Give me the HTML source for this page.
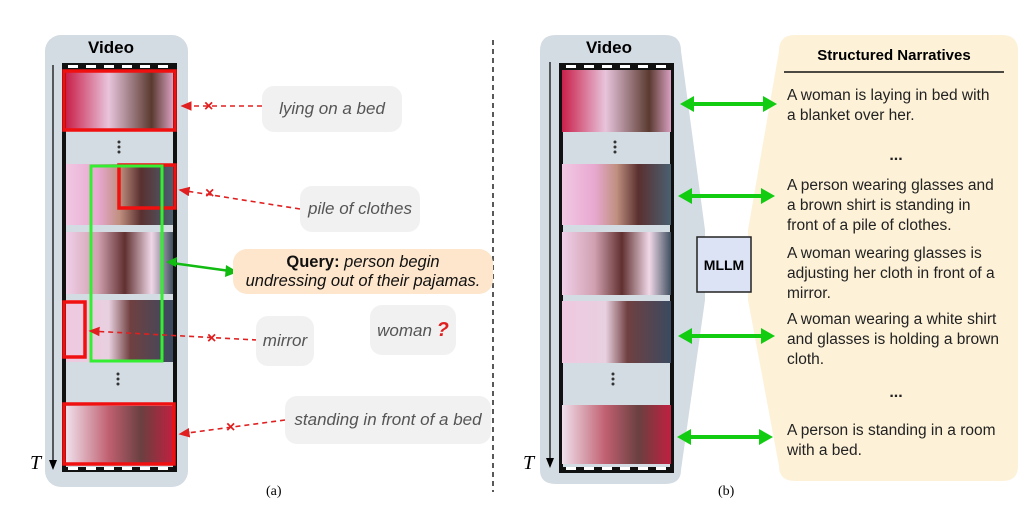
<!DOCTYPE html>
<html><head><meta charset="utf-8"><style>
body{margin:0;background:#fff;width:1024px;height:516px;overflow:hidden;position:relative;font-family:"Liberation Sans",Arial,sans-serif}
.a{position:absolute}
.bub{position:absolute;background:#f1f1f1;border-radius:12px;color:#555;font-style:italic;font-size:17px;text-align:center;white-space:nowrap}
.nt{position:absolute;left:787px;font-size:15.5px;line-height:20px;color:#222;white-space:nowrap}
</style></head><body>
<svg class="a" style="left:0;top:0" width="1024" height="516">
<defs>
<linearGradient id="f1" x1="0" x2="1"><stop offset="0" stop-color="#c9204a"/><stop offset=".4" stop-color="#e8c4dc"/><stop offset=".8" stop-color="#5a3a30"/><stop offset="1" stop-color="#d8a0c0"/></linearGradient>
<linearGradient id="f2" x1="0" x2="1"><stop offset="0" stop-color="#f2c8e4"/><stop offset=".3" stop-color="#e8a8d0"/><stop offset=".5" stop-color="#c09080"/><stop offset=".7" stop-color="#5a3030"/><stop offset="1" stop-color="#4a6070"/></linearGradient>
<linearGradient id="f3" x1="0" x2="1"><stop offset="0" stop-color="#f0d0e8"/><stop offset=".3" stop-color="#d0a0b0"/><stop offset=".55" stop-color="#603030"/><stop offset=".8" stop-color="#f0d8e8"/><stop offset="1" stop-color="#405060"/></linearGradient>
<linearGradient id="f4" x1="0" x2="1"><stop offset="0" stop-color="#f0c8e0"/><stop offset=".4" stop-color="#e8d0e0"/><stop offset=".6" stop-color="#704040"/><stop offset="1" stop-color="#3a4a60"/></linearGradient>
<linearGradient id="f5" x1="0" x2="1"><stop offset="0" stop-color="#f0e0ec"/><stop offset=".4" stop-color="#c06070"/><stop offset=".7" stop-color="#6a4040"/><stop offset="1" stop-color="#c02040"/></linearGradient>
<marker id="rh" markerWidth="8" markerHeight="8" refX="6" refY="4" orient="auto"><path d="M0,1 L7,4 L0,7z" fill="#e02020"/></marker>
</defs>
<rect x="45" y="35" width="143" height="452" rx="16" fill="#d3dbe3"/>
<rect x="62" y="63" width="115" height="409" fill="#111"/>
<rect x="66" y="70" width="107" height="397" fill="#d3dbe3"/>
<g fill="#fff"><rect x="68" y="65" width="10" height="3"/><rect x="86" y="65" width="10" height="3"/><rect x="104" y="65" width="10" height="3"/><rect x="122" y="65" width="10" height="3"/><rect x="140" y="65" width="10" height="3"/><rect x="158" y="65" width="10" height="3"/>
<rect x="68" y="467" width="10" height="3"/><rect x="86" y="467" width="10" height="3"/><rect x="104" y="467" width="10" height="3"/><rect x="122" y="467" width="10" height="3"/><rect x="140" y="467" width="10" height="3"/><rect x="158" y="467" width="10" height="3"/></g>
<rect x="66" y="72" width="107" height="58" fill="url(#f1)"/>
<rect x="66" y="164" width="107" height="61" fill="url(#f2)"/>
<rect x="66" y="232" width="107" height="62" fill="url(#f3)"/>
<rect x="66" y="300" width="107" height="62" fill="url(#f4)"/>
<rect x="66" y="406" width="107" height="58" fill="url(#f5)"/>
<g fill="#333"><circle cx="119" cy="142" r="1.5"/><circle cx="119" cy="147" r="1.5"/><circle cx="119" cy="152" r="1.5"/><circle cx="118" cy="374" r="1.5"/><circle cx="118" cy="379" r="1.5"/><circle cx="118" cy="384" r="1.5"/></g>
<g fill="none" stroke="#f01010" stroke-width="3.5">
<rect x="64" y="71" width="111" height="59"/><rect x="119" y="165" width="56" height="43"/><rect x="64" y="302" width="21" height="55"/><rect x="64" y="404" width="110" height="60"/></g>
<rect x="91" y="166" width="71" height="195" fill="none" stroke="#33ee33" stroke-width="3"/>
<line x1="53" y1="65" x2="53" y2="468" stroke="#000" stroke-width="1.2"/><path d="M49,460 L53,470 L57,460z" fill="#000"/>
<g stroke="#e02020" stroke-width="1.6" stroke-dasharray="5,4" fill="none">
<line x1="262" y1="106" x2="182" y2="106" marker-end="url(#rh)"/>
<line x1="300" y1="209" x2="180" y2="190" marker-end="url(#rh)"/>
<line x1="257" y1="340" x2="90" y2="331" marker-end="url(#rh)"/>
<line x1="285" y1="420" x2="180" y2="434" marker-end="url(#rh)"/>
</g>
<g fill="#e02020" font-size="16" font-weight="bold" font-family="Liberation Sans"><text x="204" y="111">×</text><text x="205" y="198">×</text><text x="207" y="343">×</text><text x="226" y="432">×</text></g>
<g stroke="#11bb11" stroke-width="2.5"><line x1="172" y1="263" x2="230" y2="271"/></g>
<path d="M166,262 L177,257 L176,267z" fill="#11bb11"/><path d="M238,272 L226,265 L225,277z" fill="#11bb11"/>
<line x1="493" y1="40" x2="493" y2="492" stroke="#222" stroke-width="1.5" stroke-dasharray="5,4"/>
<path d="M556,35 H665 Q681,35 681,51 L705,230 V300 L681,470 Q681,484 665,484 H556 Q540,484 540,470 V51 Q540,35 556,35z" fill="#d3dbe3"/>
<path d="M795,35 H1002 Q1018,35 1018,51 V466 Q1018,481 1002,481 H795 Q779,481 779,466 L748,300 V230 L779,51 Q779,35 795,35z" fill="#fdf1d8"/>
<rect x="559" y="63" width="115" height="410" fill="#111"/>
<rect x="563" y="70" width="107" height="397" fill="#d3dbe3"/>
<g fill="#fff"><rect x="566" y="65" width="10" height="3"/><rect x="584" y="65" width="10" height="3"/><rect x="602" y="65" width="10" height="3"/><rect x="620" y="65" width="10" height="3"/><rect x="638" y="65" width="10" height="3"/><rect x="656" y="65" width="10" height="3"/>
<rect x="566" y="467" width="10" height="3"/><rect x="584" y="467" width="10" height="3"/><rect x="602" y="467" width="10" height="3"/><rect x="620" y="467" width="10" height="3"/><rect x="638" y="467" width="10" height="3"/><rect x="656" y="467" width="10" height="3"/></g>
<rect x="562" y="70" width="109" height="62" fill="url(#f1)"/>
<rect x="562" y="164" width="109" height="61" fill="url(#f2)"/>
<rect x="562" y="232" width="109" height="63" fill="url(#f3)"/>
<rect x="562" y="301" width="109" height="62" fill="url(#f4)"/>
<rect x="562" y="405" width="109" height="59" fill="url(#f5)"/>
<g fill="#333"><circle cx="615" cy="142" r="1.5"/><circle cx="615" cy="147" r="1.5"/><circle cx="615" cy="152" r="1.5"/><circle cx="613" cy="374" r="1.5"/><circle cx="613" cy="379" r="1.5"/><circle cx="613" cy="384" r="1.5"/></g>
<line x1="550" y1="62" x2="550" y2="466" stroke="#000" stroke-width="1.2"/><path d="M546,458 L550,468 L554,458z" fill="#000"/>
<rect x="697" y="237" width="54" height="55" fill="#dce3f5" stroke="#222" stroke-width="1.5"/>
<text x="724" y="270" font-size="14" font-weight="bold" text-anchor="middle" font-family="Liberation Sans">MLLM</text>
<g stroke="#11cc11" stroke-width="4">
<line x1="688" y1="104" x2="768" y2="104"/><line x1="686" y1="196" x2="766" y2="196"/><line x1="686" y1="336" x2="766" y2="336"/><line x1="685" y1="437" x2="765" y2="437"/></g>
<g fill="#11cc11">
<path d="M680,104 L694,96 L694,112z"/><path d="M777,104 L763,96 L763,112z"/>
<path d="M678,196 L692,188 L692,204z"/><path d="M775,196 L761,188 L761,204z"/>
<path d="M678,336 L692,328 L692,344z"/><path d="M775,336 L761,328 L761,344z"/>
<path d="M677,437 L691,429 L691,445z"/><path d="M773,437 L759,429 L759,445z"/></g>
<line x1="784" y1="72" x2="1004" y2="72" stroke="#111" stroke-width="1.5"/>
<g fill="#222" font-size="16" font-weight="bold"><text x="896" y="160" text-anchor="middle">...</text><text x="896" y="397" text-anchor="middle">...</text></g>
</svg>
<div class="a" style="left:88px;top:38px;font-size:17px;font-weight:bold">Video</div>
<div class="a" style="left:586px;top:38px;font-size:17px;font-weight:bold">Video</div>
<div class="a" style="left:30px;top:452px;font-family:'Liberation Serif',serif;font-style:italic;font-size:20px">T</div>
<div class="a" style="left:523px;top:452px;font-family:'Liberation Serif',serif;font-style:italic;font-size:20px">T</div>
<div class="bub" style="left:262px;top:86px;width:140px;height:46px;line-height:46px">lying on a bed</div>
<div class="bub" style="left:300px;top:186px;width:120px;height:46px;line-height:46px">pile of clothes</div>
<div class="bub" style="left:256px;top:316px;width:58px;height:50px;line-height:50px">mirror</div>
<div class="bub" style="left:370px;top:305px;width:86px;height:50px;line-height:50px">woman <span style="color:#e02020;font-weight:bold;font-size:20px">?</span></div>
<div class="bub" style="left:285px;top:396px;width:206px;height:48px;line-height:48px">standing in front of a bed</div>
<div class="a" style="left:233px;top:249px;width:260px;height:45px;background:#fde6cc;border-radius:14px;font-size:16.5px;line-height:19px;text-align:center;color:#111;padding-top:4px;box-sizing:border-box;white-space:nowrap"><b>Query:</b> <i>person begin</i><br><i>undressing out of their pajamas.</i></div>
<div class="a" style="left:786px;top:47px;width:216px;text-align:center;font-size:15px;font-weight:bold">Structured Narratives</div>
<div class="nt" style="top:86px">A woman is laying in bed with<br>a blanket over her.</div>
<div class="nt" style="top:176px">A person wearing glasses and<br>a brown shirt is standing in<br>front of a pile of clothes.</div>
<div class="nt" style="top:244px">A woman wearing glasses is<br>adjusting her cloth in front of a<br>mirror.</div>
<div class="nt" style="top:310px">A woman wearing a white shirt<br>and glasses is holding a brown<br>cloth.</div>
<div class="nt" style="top:421px">A person is standing in a room<br>with a bed.</div>
<div class="a" style="left:266px;top:484px;font-family:'Liberation Serif',serif;font-size:14px">(a)</div>
<div class="a" style="left:718px;top:484px;font-family:'Liberation Serif',serif;font-size:14px">(b)</div>
</body></html>
